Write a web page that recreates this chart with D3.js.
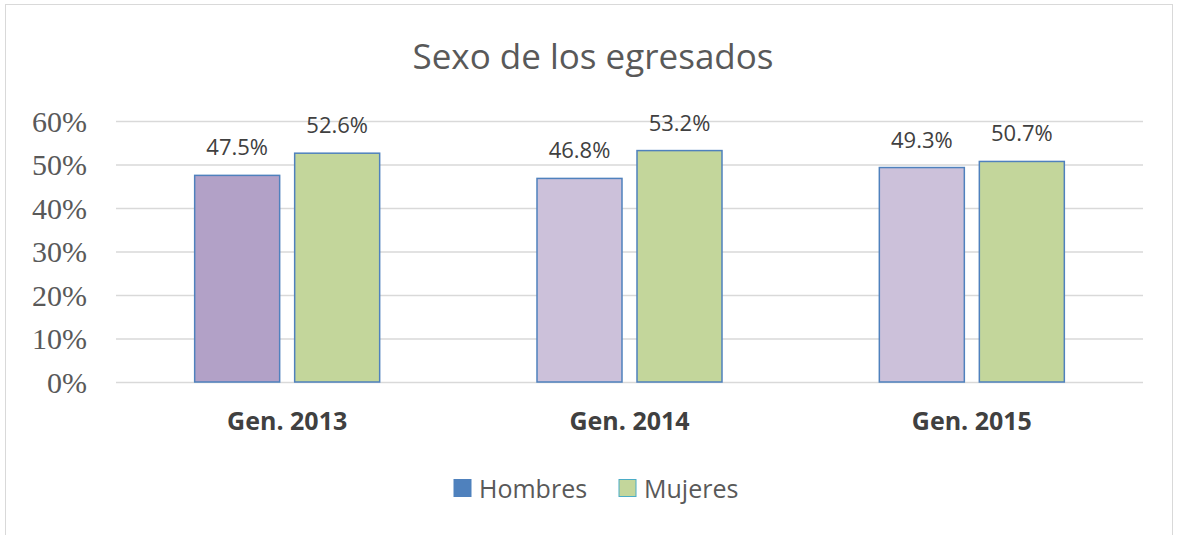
<!DOCTYPE html>
<html>
<head>
<meta charset="utf-8">
<script src="https://cdn.jsdelivr.net/npm/d3@7"></script>
<style>
body { margin: 0; background: #fff; }
</style>
</head>
<body>
<div id="chart"></div>
<script>
const generaciones = ['Gen. 2013', 'Gen. 2014', 'Gen. 2015'];
const series = ['Hombres', 'Mujeres'];
const hombres = [47.5, 46.8, 49.3];
const mujeres = [52.6, 53.2, 50.7];
const yTicks = [0, 10, 20, 30, 40, 50, 60];

const width = 1179, height = 535;
const plotLeft = 116, plotRight = 1143, plotTop = 121, plotBottom = 382;

const svg = d3.select('#chart')
    .append('svg')
    .attr('width', width)
    .attr('height', height);

// chart frame
svg.append('rect')
    .attr('x', 5.5).attr('y', 4.5)
    .attr('width', 1167).attr('height', 560)
    .attr('fill', 'none')
    .attr('stroke', '#d9d9d9');

svg.append('text')
    .attr('x', 593).attr('y', 69)
    .style('text-anchor', 'middle')
    .style('font-family', 'Open Sans, sans-serif')
    .style('font-size', '35px')
    .style('fill', '#595959')
    .text('Sexo de los egresados');

let scaleX = d3.scaleBand().domain(generaciones).range([plotLeft, plotRight]);
let scaleY = d3.scaleLinear().domain([0, 60]).range([plotBottom, plotTop]);
let scaleSerie = d3.scaleBand().domain(series).range([0, 185]).paddingInner(0.15);

let yAxis = d3.axisLeft(scaleY).tickValues(yTicks).tickSize(-(plotRight - plotLeft)).tickFormat(d => d + '%');
let yAxisGroup = svg.append('g')
    .attr('transform', 'translate(' + plotLeft + ',0)')
    .call(yAxis);
yAxisGroup.select('.domain').remove();
yAxisGroup.selectAll('line').attr('stroke', '#d9d9d9').attr('stroke-width', 1.3);
yAxisGroup.selectAll('text')
    .attr('x', -29)
    .attr('dy', '0.34em')
    .style('font-family', 'Liberation Serif, serif')
    .style('font-size', '30px')
    .style('fill', '#595959');

let xAxis = d3.axisBottom(scaleX).tickSize(0);
let xAxisGroup = svg.append('g')
    .attr('transform', 'translate(0,' + plotBottom + ')')
    .call(xAxis);
xAxisGroup.select('.domain').remove();
xAxisGroup.selectAll('text')
    .attr('dy', 0).attr('y', 48)
    .style('font-family', 'Open Sans, sans-serif')
    .style('font-weight', 'bold')
    .style('font-size', '25px')
    .style('fill', '#404040');

const rows = [];
generaciones.forEach((g, i) => {
    rows.push({gen: g, serie: 'Hombres', v: hombres[i], i: i});
    rows.push({gen: g, serie: 'Mujeres', v: mujeres[i], i: i});
});

const fill = d => {
    if (d.serie == 'Mujeres') { return '#c3d69b'; }
    else if (d.i == 0) { return '#b2a1c7'; }
    else { return '#ccc1da'; }
};

const groupOffset = (scaleX.bandwidth() - scaleSerie.range()[1]) / 2;

svg.selectAll('.bar')
    .data(rows)
    .enter()
    .append('rect')
    .attr('class', 'bar')
    .attr('x', d => scaleX(d.gen) + groupOffset + scaleSerie(d.serie))
    .attr('y', d => scaleY(d.v))
    .attr('width', scaleSerie.bandwidth())
    .attr('height', d => scaleY(0) - scaleY(d.v))
    .attr('fill', fill)
    .attr('stroke', '#4f81bd')
    .attr('stroke-width', 1.5);

svg.selectAll('.lbl')
    .data(rows)
    .enter()
    .append('text')
    .attr('class', 'lbl')
    .attr('x', d => scaleX(d.gen) + groupOffset + scaleSerie(d.serie) + scaleSerie.bandwidth() / 2)
    .attr('y', d => scaleY(d.v) - 20)
    .style('text-anchor', 'middle')
    .style('font-family', 'Open Sans, sans-serif')
    .style('font-size', '22px')
    .style('fill', '#404040')
    .text(d => d.v.toFixed(1) + '%');

// legend
const legend = svg.append('g');
const legendItems = [
    {name: 'Hombres', x: 454, fill: '#4f81bd', stroke: '#4f81bd'},
    {name: 'Mujeres', x: 619, fill: '#c3d69b', stroke: '#4bacc6'}
];
legendItems.forEach(it => {
    legend.append('rect')
        .attr('x', it.x).attr('y', 479.5)
        .attr('width', 17).attr('height', 17)
        .attr('fill', it.fill)
        .attr('stroke', it.stroke)
        .attr('stroke-width', 1);
    legend.append('text')
        .attr('x', it.x + 25).attr('y', 498)
        .style('font-family', 'Open Sans, sans-serif')
        .style('font-size', '25px')
        .style('fill', '#595959')
        .text(it.name);
});
</script>
</body>
</html>
